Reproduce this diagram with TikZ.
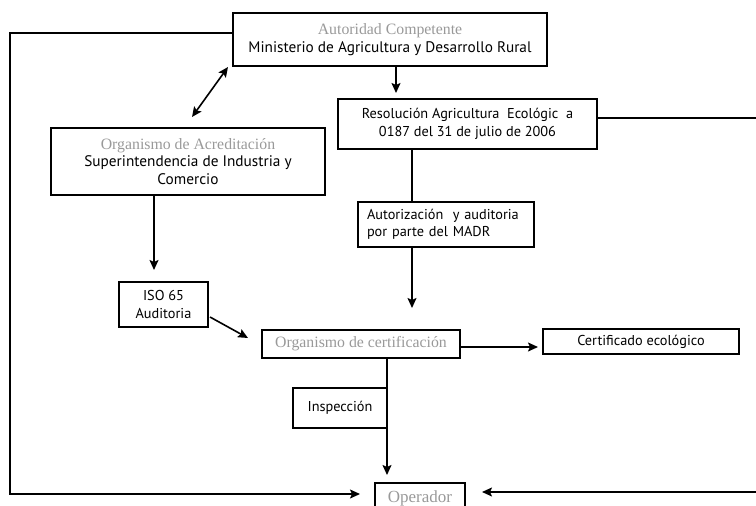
\documentclass[tikz,border=0pt]{standalone}
\usepackage{fontspec}
\setmainfont{PT Sans}
\newfontfamily\grayfont{Liberation Serif}
\usetikzlibrary{arrows.meta,calc}
\definecolor{titlegray}{gray}{0.6}
\tikzset{
  box/.style={draw=black, line width=1.2pt, inner sep=0pt, align=center, font=\fontsize{14.3}{17.5}\selectfont},
  bigbox/.style={box, font=\fontsize{15.3}{17.5}\selectfont},
  conn/.style={line width=1.6pt},
  arr/.style={conn, -{Stealth[length=10pt,width=9pt,inset=2pt]}},
  darr/.style={conn, {Stealth[length=10pt,width=9pt,inset=2pt]}-{Stealth[length=10pt,width=9pt,inset=2pt]}},
}
\newcommand{\gt}[1]{{\grayfont\fontsize{15.8}{17.5}\selectfont\color{titlegray}#1}}
\begin{document}
\begin{tikzpicture}[x=1pt,y=-1pt]
\useasboundingbox (0,0) rectangle (756,506);
\clip (0,0) rectangle (756,506);
% nodes
\node[bigbox, minimum width=314pt, minimum height=53pt] (aut) at (390,39.5)
  {\gt{Autoridad Competente}\\Ministerio de Agricultura y Desarrollo Rural};
\node[box, minimum width=259pt, minimum height=50pt] (res) at (467.5,124)
  {Resolución Agricultura\ \ Ecológic\ \ a\\0187 del 31 de julio de 2006};
\node[bigbox, minimum width=274pt, minimum height=67pt] (acr) at (188,161.5)
  {\gt{Organismo de Acreditación}\\Superintendencia de Industria y\\Comercio};
\node[box, minimum width=176pt, minimum height=45pt, align=left, text width=158pt] (aud) at (446,224.5)
  {\mbox{Autorización\ \ y auditoria}\\\mbox{por parte del MADR}};
\node[box, minimum width=89pt, minimum height=45pt] (iso) at (163.5,304.5)
  {ISO 65\\Auditoria};
\node[box, minimum width=198pt, minimum height=28pt] (cer) at (361,344)
  {\gt{Organismo de certificación}};
\node[box, minimum width=196pt, minimum height=25pt] (cfe) at (641,341.5)
  {Certificado ecológico};
\node[box, minimum width=94pt, minimum height=40pt] (ins) at (340,408)
  {\raisebox{3pt}{Inspección}};
\node[box, minimum width=90pt, minimum height=30pt] (op) at (420,498)
  {\gt{\fontsize{17}{17}\selectfont Operador}};
% coordinates
\coordinate (l1) at (10,33);
\coordinate (l2) at (10,494);
\coordinate (lt) at (360,494);
\coordinate (r1) at (758,118);
\coordinate (r2) at (758,492);
\coordinate (rt) at (482,492);
\coordinate (d1) at (228,67);
\coordinate (d2) at (192,117);
\coordinate (a1) at (396,93);
\coordinate (au1) at (412,308);
\coordinate (ac1) at (154,270);
\coordinate (is1) at (210,317);
\coordinate (is2) at (248,338);
\coordinate (ce1) at (538,347);
\coordinate (ce2) at (387,475);
% connectors
\draw[arr] (aut.west |- l1) -- (l1) -- (l2) -- (lt);
\draw[arr] (res.east |- r1) -- (r1) -- (r2) -- (rt);
\draw[darr] (d1) -- (d2);
\draw[arr] (aut.south -| a1) -- (a1);
\draw[conn] (res.south -| au1) -- (aud.north -| au1);
\draw[arr] (aud.south -| au1) -- (au1);
\draw[arr] (acr.south -| ac1) -- (ac1);
\draw[arr] (is1) -- (is2);
\draw[arr] (cer.east |- ce1) -- (ce1);
\draw[arr] (cer.south -| ce2) -- (ce2);
\end{tikzpicture}
\end{document}
